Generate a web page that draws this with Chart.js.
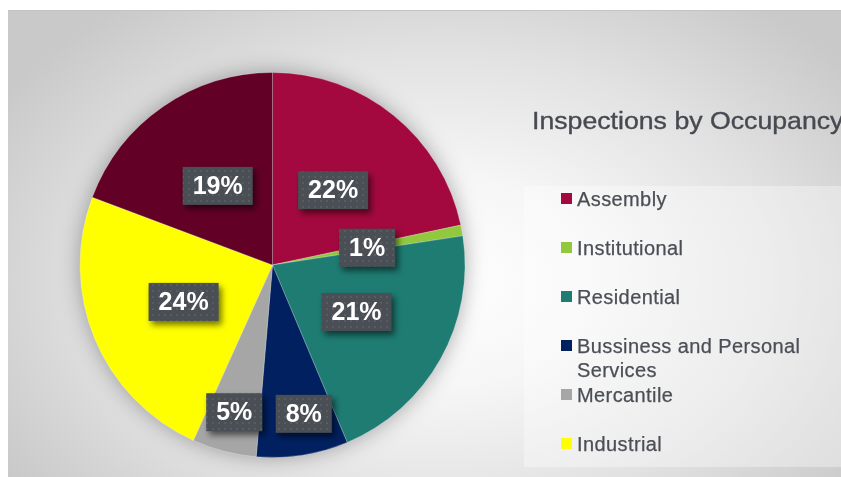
<!DOCTYPE html>
<html>
<head>
<meta charset="utf-8">
<script src="https://cdn.jsdelivr.net/npm/chart.js@4"></script>
<style>
  html, body { margin: 0; padding: 0; width: 841px; height: 477px; overflow: hidden; background: #fff; }
  #panel {
    position: absolute; left: 8px; top: 10px; width: 833px; height: 467px;
    border-top: 1px solid #c4c4c4;
    background: radial-gradient(ellipse 62% 75% at 52% 58%, #ffffff 0%, #f6f6f6 30%, #e2e2e2 65%, #c9c9c9 100%);
  }
  #wrap { position: absolute; left: 0; top: 0; width: 841px; height: 477px; }
  #title {
    position: absolute; left: 532px; top: 106px; white-space: nowrap;
    font: 23px "Liberation Sans", Arial, sans-serif; line-height: 30px; color: #464a50;
    -webkit-text-stroke: 0.35px #464a50;
    transform: scaleX(1.16); transform-origin: left center;
  }
  #legendBox {
    position: absolute; left: 524px; top: 186px; width: 317px; height: 281px;
    background: rgba(255,255,255,0.35); overflow: hidden;
  }
  .item { position: relative; height: 49px; }
  .mark { position: absolute; left: 37px; top: 7px; width: 11px; height: 11px; }
  .txt {
    position: absolute; left: 53px; top: 1px; width: 250px;
    font: 20px "Liberation Sans", Arial, sans-serif; line-height: 24px; color: #4b4f55;
    -webkit-text-stroke: 0.25px #4b4f55;
    letter-spacing: 0.4px;
  }
</style>
</head>
<body>
<div id="panel"></div>
<div id="wrap"><canvas id="c" width="841" height="477"></canvas></div>
<div id="title"></div>
<div id="legendBox"></div>
<script>
// data (shares of inspections, %)
const categories = ['Assembly', 'Institutional', 'Residential', 'Bussiness and Personal Services', 'Mercantile', 'Industrial', 'Storage'];
const shares = [21.7, 0.9, 21.1, 7.7, 5.4, 24.0, 19.3];
const sliceColors = ['#a3093e', '#92c83e', '#1e7c73', '#002060', '#a6a6a6', '#ffff00', '#630026'];
const chartTitle = 'Inspections by Occupancy';

document.getElementById('title').textContent = chartTitle;

// legend (only what fits in the box shows, like the original)
const box = document.getElementById('legendBox');
categories.forEach((name, i) => {
  const it = document.createElement('div');
  it.className = 'item';
  const m = document.createElement('div');
  m.className = 'mark';
  m.style.background = sliceColors[i];
  const t = document.createElement('div');
  t.className = 'txt';
  t.textContent = name;
  it.appendChild(m);
  it.appendChild(t);
  box.appendChild(it);
});

// little dotted texture for the label boxes
function labelPattern(ctx) {
  const p = document.createElement('canvas');
  p.width = 6; p.height = 6;
  const pc = p.getContext('2d');
  pc.fillStyle = '#4a4f56';
  pc.fillRect(0, 0, 6, 6);
  pc.fillStyle = '#575c63';
  pc.fillRect(2, 2, 2, 2);
  return ctx.createPattern(p, 'repeat');
}

const pieShadow = {
  id: 'pieShadow',
  beforeDatasetsDraw(chart) {
    const arc = chart.getDatasetMeta(0).data[0];
    if (!arc) return;
    const ctx = chart.ctx;
    ctx.save();
    ctx.shadowColor = 'rgba(0,0,0,0.35)';
    ctx.shadowBlur = 22;
    ctx.beginPath();
    ctx.arc(arc.x, arc.y, arc.outerRadius - 1, 0, Math.PI * 2);
    ctx.fillStyle = '#888';
    ctx.fill();
    ctx.restore();
  }
};

const pctLabels = {
  id: 'pctLabels',
  afterDatasetsDraw(chart) {
    const ctx = chart.ctx;
    const meta = chart.getDatasetMeta(0);
    const total = shares.reduce((a, b) => a + b, 0);
    const pat = labelPattern(ctx);
    ctx.save();
    ctx.font = 'bold 25px "Liberation Sans", Arial, sans-serif';
    meta.data.forEach((arc, i) => {
      const pct = shares[i] / total * 100;
      let mid = (arc.startAngle + arc.endAngle) / 2;
      let f = 0.5;
      if (pct > 3 && pct < 10) {
        // small slices: label pushed out towards the rim
        f = 0.79;
        mid += (pct > 6 ? -0.05 : 0);
      }
      const x = arc.x + Math.cos(mid) * arc.outerRadius * f;
      const y = arc.y + Math.sin(mid) * arc.outerRadius * f;
      const txt = Math.round(pct) + '%';
      const w = ctx.measureText(txt).width + 20;
      const h = 38;
      ctx.save();
      ctx.shadowColor = 'rgba(0,0,0,0.55)';
      ctx.shadowBlur = 6;
      ctx.shadowOffsetX = 3;
      ctx.shadowOffsetY = 4;
      ctx.fillStyle = pat;
      ctx.fillRect(x - w / 2, y - h / 2, w, h);
      ctx.restore();
      ctx.fillStyle = '#ffffff';
      ctx.textAlign = 'center';
      ctx.textBaseline = 'middle';
      ctx.fillText(txt, x, y + 1);
    });
    ctx.restore();
  }
};

new Chart(document.getElementById('c'), {
  type: 'pie',
  data: {
    labels: categories,
    datasets: [{
      data: shares,
      backgroundColor: sliceColors,
      borderColor: 'rgba(255,255,255,0.25)',
      borderWidth: 1
    }]
  },
  options: {
    responsive: false,
    animation: false,
    layout: { padding: { left: 79, right: 375, top: 72, bottom: 19 } },
    plugins: {
      legend: { display: false },
      tooltip: { enabled: false }
    }
  },
  plugins: [pieShadow, pctLabels]
});
</script>
</body>
</html>
